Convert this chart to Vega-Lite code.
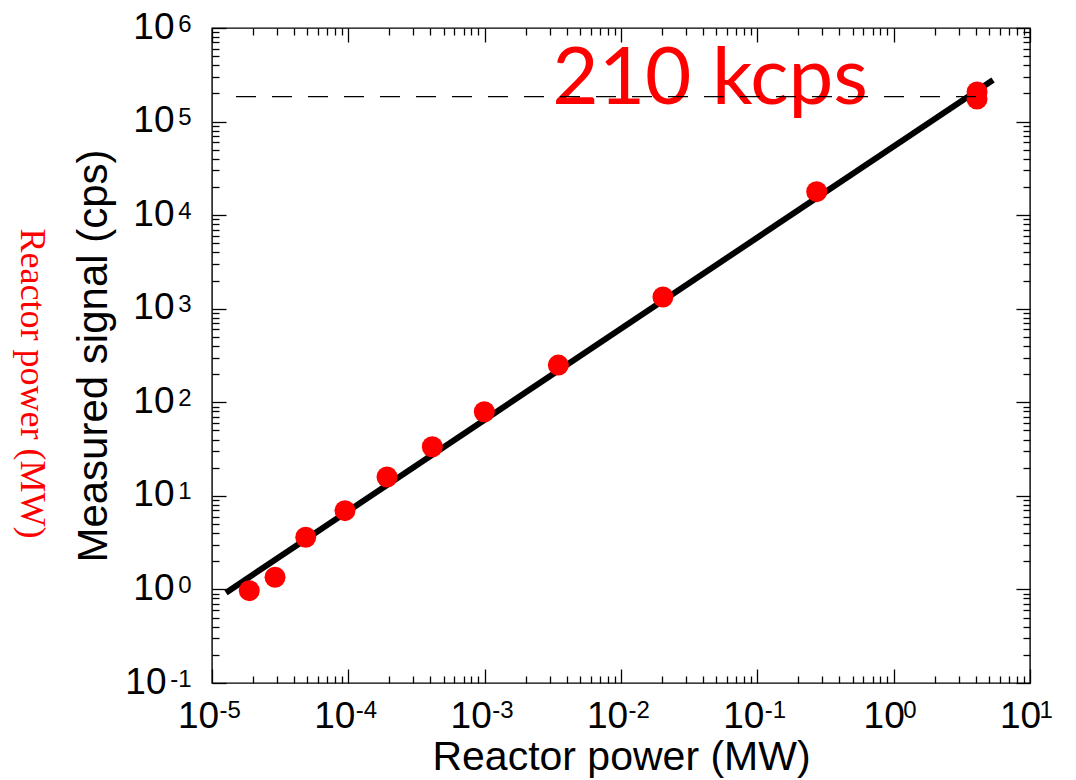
{
  "$schema": "https://vega.github.io/schema/vega-lite/v6.json",
  "width": 818,
  "height": 655,
  "autosize": {"type": "none"},
  "padding": {"left": 212, "top": 28, "right": 46, "bottom": 97},
  "background": "white",
  "config": {
    "view": {"stroke": "black", "strokeWidth": 1.4},
    "axis": {"grid": false, "labelFlush": false, "labelOverlap": false, "labelBound": false}
  },
  "title": {
    "text": "Reactor power (MW)",
    "orient": "left",
    "anchor": "middle",
    "angle": 90,
    "baseline": "top",
    "color": "#ff0000",
    "font": "Liberation Serif",
    "fontSize": 36,
    "fontWeight": "normal",
    "offset": -12,
    "dx": 28
  },
  "layer": [
    {
      "data": {"values": [{"power": 1.267e-5, "signal": 0.923}, {"power": 5.355, "signal": 278000}]},
      "mark": {"type": "line", "color": "black", "strokeWidth": 6, "strokeCap": "butt"},
      "encoding": {
        "x": {
          "field": "power", "type": "quantitative",
          "scale": {"type": "log", "domain": [0.00001, 10], "nice": false},
          "axis": {
            "orient": "bottom",
            "values": [0.00001, 0.0001, 0.001, 0.01, 0.1, 1, 10],
            "ticks": false, "domain": false,
            "labelExpr": "'10'",
            "labelFont": "Liberation Sans", "labelFontSize": 37, "labelColor": "black",
            "labelBaseline": "alphabetic", "labelAlign": "center",
            "labelPadding": 44,
            "labelOffset": {"condition": {"test": "datum.value < 1", "value": -14}, "value": -10},
            "title": "Reactor power (MW)",
            "titleFont": "Liberation Sans", "titleFontSize": 41, "titleFontWeight": "normal", "titleColor": "black",
            "titlePadding": 3
          }
        },
        "y": {
          "field": "signal", "type": "quantitative",
          "scale": {"type": "log", "domain": [0.1, 1000000], "nice": false},
          "axis": {
            "orient": "left",
            "values": [0.1, 1, 10, 100, 1000, 10000, 100000, 1000000],
            "ticks": false, "domain": false,
            "labelExpr": "'10'",
            "labelFont": "Liberation Sans", "labelFontSize": 37, "labelColor": "black",
            "labelBaseline": "alphabetic", "labelAlign": "right",
            "labelOffset": 10,
            "labelPadding": {"condition": {"test": "datum.value < 1", "value": 46}, "value": 38},
            "title": "Measured signal (cps)",
            "titleFont": "Liberation Sans", "titleFontSize": 42, "titleFontWeight": "normal", "titleColor": "black",
            "titlePadding": 9
          }
        }
      }
    },
    {
      "data": {"values": [
        {"power": 1.877e-5, "signal": 0.969},
        {"power": 2.90e-5, "signal": 1.35},
        {"power": 4.87e-5, "signal": 3.61},
        {"power": 9.45e-5, "signal": 6.94},
        {"power": 1.922e-4, "signal": 15.9},
        {"power": 4.13e-4, "signal": 33.5},
        {"power": 9.94e-4, "signal": 79.3},
        {"power": 3.47e-3, "signal": 250},
        {"power": 0.0203, "signal": 1334},
        {"power": 0.2725, "signal": 17810},
        {"power": 4.09, "signal": 207000},
        {"power": 4.09, "signal": 174000}
      ]},
      "mark": {"type": "circle", "color": "#ff0000", "opacity": 1, "size": 440},
      "encoding": {
        "x": {
          "field": "power", "type": "quantitative",
          "scale": {"type": "log", "domain": [0.00001, 10], "nice": false},
          "axis": {
            "orient": "bottom",
            "values": [0.00001, 0.0001, 0.001, 0.01, 0.1, 1, 10],
            "ticks": false, "domain": false,
            "labelExpr": "'' + round(log(datum.value) / LN10)",
            "labelFont": "Liberation Sans", "labelFontSize": 24, "labelColor": "black",
            "labelBaseline": "alphabetic", "labelAlign": "left",
            "labelPadding": 34,
            "labelOffset": {"condition": {"test": "datum.value < 1", "value": 7}, "value": 9},
            "title": null
          }
        },
        "y": {
          "field": "signal", "type": "quantitative",
          "scale": {"type": "log", "domain": [0.1, 1000000], "nice": false},
          "axis": {
            "orient": "left",
            "values": [0.1, 1, 10, 100, 1000, 10000, 100000, 1000000],
            "ticks": false, "domain": false,
            "labelExpr": "'' + round(log(datum.value) / LN10)",
            "labelFont": "Liberation Sans", "labelFontSize": 24, "labelColor": "black",
            "labelBaseline": "alphabetic", "labelAlign": "right",
            "labelOffset": 3,
            "labelPadding": 21,
            "title": null
          }
        }
      }
    },
    {
      "data": {"values": [{"power": 0.00313, "signal": 154000, "label": "210 kcps"}]},
      "mark": {"type": "text", "color": "#ff0000", "font": "Lato", "fontSize": 80, "align": "left", "baseline": "alphabetic"},
      "encoding": {
        "x": {
          "field": "power", "type": "quantitative",
          "scale": {"type": "log", "domain": [0.00001, 10], "nice": false},
          "axis": {
            "orient": "top",
            "values": [0.00001, 0.00002, 0.00003, 0.00004, 0.00005, 0.00006, 0.00007, 0.00008, 0.00009,
                       0.0001, 0.0002, 0.0003, 0.0004, 0.0005, 0.0006, 0.0007, 0.0008, 0.0009,
                       0.001, 0.002, 0.003, 0.004, 0.005, 0.006, 0.007, 0.008, 0.009,
                       0.01, 0.02, 0.03, 0.04, 0.05, 0.06, 0.07, 0.08, 0.09,
                       0.1, 0.2, 0.3, 0.4, 0.5, 0.6, 0.7, 0.8, 0.9,
                       1, 2, 3, 4, 5, 6, 7, 8, 9, 10],
            "labels": false, "domain": false,
            "ticks": true, "tickColor": "black", "tickWidth": 1.3,
            "tickSize": {"condition": {"test": "abs(log(datum.value)/LN10 - round(log(datum.value)/LN10)) < 0.001", "value": -14}, "value": -7},
            "title": null
          }
        },
        "y": {
          "field": "signal", "type": "quantitative",
          "scale": {"type": "log", "domain": [0.1, 1000000], "nice": false},
          "axis": {
            "orient": "right",
            "values": [0.1, 0.2, 0.3, 0.4, 0.5, 0.6, 0.7, 0.8, 0.9,
                       1, 2, 3, 4, 5, 6, 7, 8, 9,
                       10, 20, 30, 40, 50, 60, 70, 80, 90,
                       100, 200, 300, 400, 500, 600, 700, 800, 900,
                       1000, 2000, 3000, 4000, 5000, 6000, 7000, 8000, 9000,
                       10000, 20000, 30000, 40000, 50000, 60000, 70000, 80000, 90000,
                       100000, 200000, 300000, 400000, 500000, 600000, 700000, 800000, 900000, 1000000],
            "labels": false, "domain": false,
            "ticks": true, "tickColor": "black", "tickWidth": 1.3,
            "tickSize": {"condition": {"test": "abs(log(datum.value)/LN10 - round(log(datum.value)/LN10)) < 0.001", "value": -14}, "value": -7},
            "title": null
          }
        },
        "text": {"field": "label", "type": "nominal"}
      }
    },
    {
      "data": {"values": [{"power": 1.5e-5, "power_end": 4.09, "signal": 184500}]},
      "mark": {"type": "rule", "color": "black", "strokeWidth": 1.3, "strokeDash": [20, 16]},
      "encoding": {
        "x": {
          "field": "power", "type": "quantitative",
          "scale": {"type": "log", "domain": [0.00001, 10], "nice": false},
          "axis": {
            "orient": "bottom",
            "values": [0.00001, 0.00002, 0.00003, 0.00004, 0.00005, 0.00006, 0.00007, 0.00008, 0.00009,
                       0.0001, 0.0002, 0.0003, 0.0004, 0.0005, 0.0006, 0.0007, 0.0008, 0.0009,
                       0.001, 0.002, 0.003, 0.004, 0.005, 0.006, 0.007, 0.008, 0.009,
                       0.01, 0.02, 0.03, 0.04, 0.05, 0.06, 0.07, 0.08, 0.09,
                       0.1, 0.2, 0.3, 0.4, 0.5, 0.6, 0.7, 0.8, 0.9,
                       1, 2, 3, 4, 5, 6, 7, 8, 9, 10],
            "labels": false, "domain": false,
            "ticks": true, "tickColor": "black", "tickWidth": 1.3,
            "tickSize": {"condition": {"test": "abs(log(datum.value)/LN10 - round(log(datum.value)/LN10)) < 0.001", "value": -14}, "value": -7},
            "title": null
          }
        },
        "x2": {"field": "power_end"},
        "y": {
          "field": "signal", "type": "quantitative",
          "scale": {"type": "log", "domain": [0.1, 1000000], "nice": false},
          "axis": {
            "orient": "left",
            "values": [0.1, 0.2, 0.3, 0.4, 0.5, 0.6, 0.7, 0.8, 0.9,
                       1, 2, 3, 4, 5, 6, 7, 8, 9,
                       10, 20, 30, 40, 50, 60, 70, 80, 90,
                       100, 200, 300, 400, 500, 600, 700, 800, 900,
                       1000, 2000, 3000, 4000, 5000, 6000, 7000, 8000, 9000,
                       10000, 20000, 30000, 40000, 50000, 60000, 70000, 80000, 90000,
                       100000, 200000, 300000, 400000, 500000, 600000, 700000, 800000, 900000, 1000000],
            "labels": false, "domain": false,
            "ticks": true, "tickColor": "black", "tickWidth": 1.3,
            "tickSize": {"condition": {"test": "abs(log(datum.value)/LN10 - round(log(datum.value)/LN10)) < 0.001", "value": -14}, "value": -7},
            "title": null
          }
        }
      }
    }
  ],
  "resolve": {"axis": {"x": "independent", "y": "independent"}}
}
